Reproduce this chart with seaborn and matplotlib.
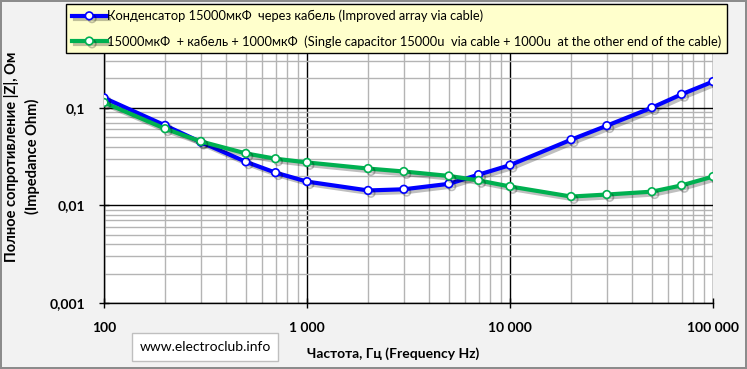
import seaborn as sns
import matplotlib.pyplot as plt
import matplotlib.patheffects as pe
from matplotlib.ticker import FixedLocator, LogLocator, NullFormatter
import pandas as pd

# frequencies (Hz)
freq = [100, 200, 300, 500, 700, 1000, 2000, 3000, 5000, 7000,
        10000, 20000, 30000, 50000, 70000, 100000]

# |Z| in Ohm
z_array = [0.126, 0.0658, 0.0444, 0.0279, 0.0216, 0.0175, 0.0142, 0.0146,
           0.0166, 0.0206, 0.0258, 0.047, 0.0654, 0.100, 0.137, 0.185]
z_single = [0.113, 0.0609, 0.0451, 0.034, 0.030, 0.0275, 0.0238, 0.0222,
            0.0200, 0.0180, 0.0156, 0.0123, 0.0129, 0.0138, 0.0160, 0.0197]

label_array = "Конденсатор 15000мкФ  через кабель (Improved array via cable)"
label_single = ("15000мкФ  + кабель + 1000мкФ  (Single capacitor 15000u  via cable + 1000u  "
                "at the other end of the cable)")

x_ticks = [100, 1000, 10000, 100000]
x_tick_labels = ["100", "1 000", "10 000", "100 000"]
y_ticks = [0.001, 0.01, 0.1]
y_tick_labels = ["0,001", "0,01", "0,1"]

plt.rcParams['font.family'] = ['Lato', 'DejaVu Sans']

W, H = 747, 369
fig = plt.figure(figsize=(W / 100, H / 100), dpi=100, facecolor='#f2f2f2')
fig.patch.set_edgecolor('#8c8c8c')
fig.patch.set_linewidth(1.5)
ax = fig.add_axes([104 / W, 1 - 303 / H, (713 - 104) / W, (303 - 10) / H])
ax.set_facecolor('white')

df = pd.DataFrame({'freq': freq + freq,
                   'z': z_array + z_single,
                   'series': [label_array] * len(freq) + [label_single] * len(freq)})

shadow = [pe.SimpleLineShadow(offset=(2, -2), shadow_color='black', alpha=0.25), pe.Normal()]
colors = {label_array: '#0000ff', label_single: '#00b050'}
for name in [label_array, label_single]:
    sub = df[df['series'] == name]
    sns.lineplot(data=sub, x='freq', y='z', ax=ax, color=colors[name], lw=3,
                 marker='o', markersize=5.5, markerfacecolor='white',
                 markeredgecolor=colors[name], markeredgewidth=1.2,
                 label=name, path_effects=shadow, zorder=5)

ax.set_xscale('log')
ax.set_yscale('log')
ax.set_xlim(100, 100000)
ax.set_ylim(0.001, 1)

ax.xaxis.set_major_locator(FixedLocator(x_ticks))
ax.set_xticklabels(x_tick_labels)
ax.yaxis.set_major_locator(FixedLocator(y_ticks))
ax.set_yticklabels(y_tick_labels)
ax.xaxis.set_minor_locator(LogLocator(base=10, subs=range(2, 10)))
ax.yaxis.set_minor_locator(LogLocator(base=10, subs=range(2, 10)))
ax.xaxis.set_minor_formatter(NullFormatter())
ax.yaxis.set_minor_formatter(NullFormatter())

ax.grid(True, which='minor', color='#b4b4b4', lw=1)
ax.grid(True, which='major', color='black', lw=1)
ax.set_axisbelow(True)
ax.tick_params(which='major', direction='inout', length=7, width=1, colors='black',
               labelsize=10, pad=10)
ax.tick_params(which='minor', length=0)
for t in ax.get_xticklabels() + ax.get_yticklabels():
    t.set_fontweight('bold')
for s in ['top', 'right']:
    ax.spines[s].set_visible(False)
for s in ['left', 'bottom']:
    ax.spines[s].set_color('black')
    ax.spines[s].set_linewidth(1)

ax.set_xlabel("Частота, Гц (Frequency Hz)", fontsize=10, fontweight='bold')
ax.xaxis.set_label_coords((393 - 104) / 609, -44 / 293)
ax.set_ylabel("Полное сопротивление |Z|, Ом\n(Impedance Ohm)", fontsize=10.5,
              fontweight='bold', linespacing=1.5)
ax.yaxis.set_label_coords(-64 / 609, 0.5)

ax.get_legend().remove()
handles, labels = ax.get_legend_handles_labels()
leg = fig.legend(handles, labels, loc='upper left', bbox_to_anchor=(66 / W, 1 - 4 / H),
                 frameon=True, fancybox=False, facecolor='#ffffcc', edgecolor='black',
                 framealpha=1, fontsize=9.3, handlelength=2.7, handletextpad=0.05,
                 labelspacing=0.98, borderpad=0.45, borderaxespad=0)
leg.get_frame().set_linewidth(1)

fig.text(205 / W, 1 - 347 / H, "www.electroclub.info", ha='center', va='center',
         fontsize=10, color='black',
         bbox=dict(boxstyle='square,pad=0.55', facecolor='white', edgecolor='#bfbfbf'))

fig.savefig('out.png', dpi=100, facecolor=fig.get_facecolor(), edgecolor=fig.patch.get_edgecolor())
